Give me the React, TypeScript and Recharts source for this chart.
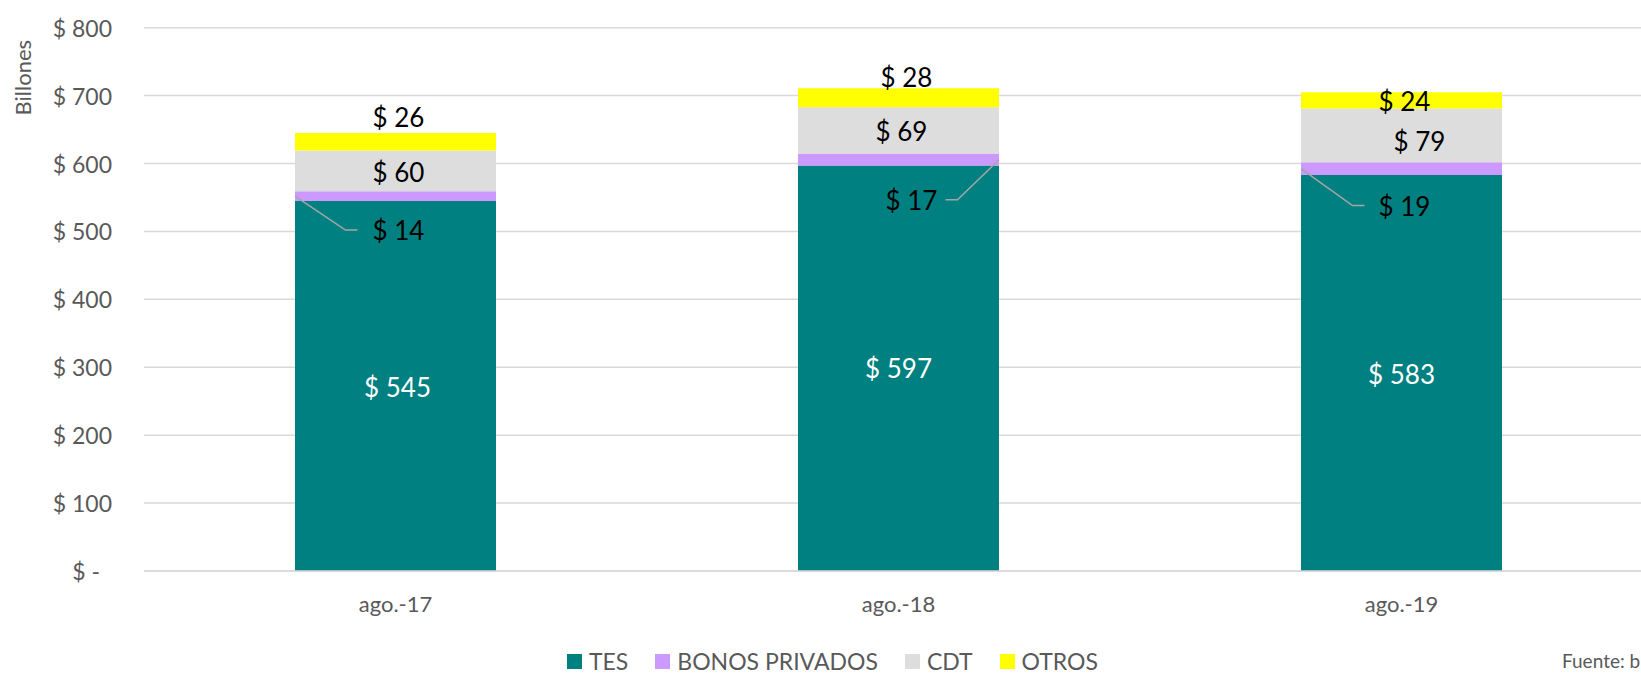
import React from "react";
import {
  BarChart,
  Bar,
  XAxis,
  YAxis,
  CartesianGrid,
  LabelList,
} from "recharts";

const categories = ["ago.-17", "ago.-18", "ago.-19"];
const tes = [545, 597, 583];
const bonos = [14, 17, 19];
const cdt = [60, 69, 79];
const otros = [26, 28, 24];
const yTicks = [0, 100, 200, 300, 400, 500, 600, 700, 800];

const data = categories.map((c, i) => ({
  fecha: c,
  tes: tes[i],
  bonos: bonos[i],
  cdt: cdt[i],
  otros: otros[i],
}));

const COLORS = {
  tes: "#008080",
  bonos: "#CC99FF",
  cdt: "#DDDDDD",
  otros: "#FFFF00",
};

const GRAY_TEXT = "#595959";
const FONT = "Lato, 'Noto Sans', sans-serif";

// label offsets from the centre of each segment (Excel had them hand-placed)
const tesOffsets = [[2, 1], [0, 0], [0, 1]];
const bonosOffsets = [[3, 34], [13, 40], [3, 37]];
const cdtOffsets = [[3, 1], [3, 0], [18, 6]];
const otrosOffsets = [[3, -25], [8, -21], [3, 1]];
// leader lines for the small "bonos" labels
const bonosLeader = [
  { side: "left", end: -41, bend: -53 },
  { side: "right", end: 34, bend: 46 },
  { side: "left", end: -40, bend: -52 },
];

const money = (v: number) => (v === 0 ? "$ -" : `$ ${v}`);

const makeLabel =
  (offsets: number[][], color: string, leader?: typeof bonosLeader) =>
  (props: any) => {
    const { x, y, width, height, value, index } = props;
    const cx = Number(x) + Number(width) / 2;
    const cy = Number(y) + Number(height) / 2;
    const [dx, dy] = offsets[index] || [0, 0];
    const lx = cx + dx;
    const ly = cy + dy;
    let path = null;
    if (leader && leader[index]) {
      const l = leader[index];
      const sx = l.side === "left" ? Number(x) : Number(x) + Number(width);
      path = (
        <polyline
          points={`${sx},${cy} ${lx + l.bend},${ly} ${lx + l.end},${ly}`}
          fill="none"
          stroke="#A6A6A6"
          strokeWidth={1.5}
        />
      );
    }
    return (
      <g>
        {path}
        <text
          x={lx}
          y={ly}
          textAnchor="middle"
          dominantBaseline="central"
          fill={color}
          fontSize={26}
          fontFamily={FONT}
        >
          {money(Number(value))}
        </text>
      </g>
    );
  };

const YTick = (props: any) => {
  const { x, y, payload } = props;
  const v = payload.value;
  return (
    <text
      x={v === 0 ? x - 12 : x}
      y={y}
      textAnchor="end"
      dominantBaseline="central"
      fill={GRAY_TEXT}
      fontSize={23}
      fontFamily={FONT}
    >
      {money(v)}
    </text>
  );
};

const XTick = (props: any) => {
  const { x, y, payload } = props;
  return (
    <text
      x={x}
      y={y}
      textAnchor="middle"
      dominantBaseline="central"
      fill={GRAY_TEXT}
      fontSize={22}
      fontFamily={FONT}
    >
      {payload.value}
    </text>
  );
};

const legendItems = [
  { name: "TES", color: COLORS.tes },
  { name: "BONOS PRIVADOS", color: COLORS.bonos },
  { name: "CDT", color: COLORS.cdt },
  { name: "OTROS", color: COLORS.otros },
];

export default function App() {
  return (
    <div
      style={{
        position: "absolute",
        left: 0,
        top: 0,
        width: 1641,
        height: 674,
        overflow: "hidden",
        background: "#fff",
        fontFamily: FONT,
      }}
    >
      <BarChart
        width={1680}
        height={674}
        data={data}
        margin={{ top: 27.7, right: 27, bottom: 43, left: 0 }}
        barSize={201}
      >
        <CartesianGrid
          vertical={false}
          stroke="#D9D9D9"
          strokeWidth={1.5}
        />
        <XAxis
          dataKey="fecha"
          height={60}
          tickLine={false}
          tickSize={0}
          tickMargin={32}
          axisLine={{ stroke: "#D9D9D9", strokeWidth: 1.5 }}
          tick={<XTick />}
          interval={0}
        />
        <YAxis
          width={144}
          domain={[0, 800]}
          ticks={yTicks}
          tickLine={false}
          tickSize={0}
          tickMargin={32}
          axisLine={false}
          tick={<YTick />}
          label={{
            content: (p: any) => {
              const vb = p.viewBox || { x: 0, y: 0 };
              const lx = vb.x + 23;
              const ly = vb.y + 50;
              return (
                <text
                  x={lx}
                  y={ly}
                  transform={`rotate(-90 ${lx} ${ly})`}
                  textAnchor="middle"
                  dominantBaseline="central"
                  fill={GRAY_TEXT}
                  fontSize={22}
                  fontFamily={FONT}
                >
                  Billones
                </text>
              );
            },
          }}
        />
        <Bar dataKey="tes" stackId="a" fill={COLORS.tes} isAnimationActive={false}>
          <LabelList dataKey="tes" content={makeLabel(tesOffsets, "#FFFFFF")} />
        </Bar>
        <Bar dataKey="bonos" stackId="a" fill={COLORS.bonos} isAnimationActive={false}>
          <LabelList
            dataKey="bonos"
            content={makeLabel(bonosOffsets, "#000000", bonosLeader)}
          />
        </Bar>
        <Bar dataKey="cdt" stackId="a" fill={COLORS.cdt} isAnimationActive={false}>
          <LabelList dataKey="cdt" content={makeLabel(cdtOffsets, "#000000")} />
        </Bar>
        <Bar dataKey="otros" stackId="a" fill={COLORS.otros} isAnimationActive={false}>
          <LabelList dataKey="otros" content={makeLabel(otrosOffsets, "#000000")} />
        </Bar>
      </BarChart>

      <div
        style={{
          position: "absolute",
          left: 567,
          top: 647,
          height: 28,
          display: "flex",
          alignItems: "center",
          gap: 27,
          color: GRAY_TEXT,
          fontSize: 23,
          lineHeight: "28px",
          whiteSpace: "nowrap",
        }}
      >
        {legendItems.map((it) => (
          <div key={it.name} style={{ display: "flex", alignItems: "center", gap: 7 }}>
            <span
              style={{ width: 15, height: 15, background: it.color, display: "inline-block" }}
            />
            <span>{it.name}</span>
          </div>
        ))}
      </div>
      <div
        style={{
          position: "absolute",
          left: 1562,
          top: 650,
          fontSize: 19,
          lineHeight: "22px",
          color: GRAY_TEXT,
          whiteSpace: "nowrap",
        }}
      >
        Fuente: b
      </div>
    </div>
  );
}
